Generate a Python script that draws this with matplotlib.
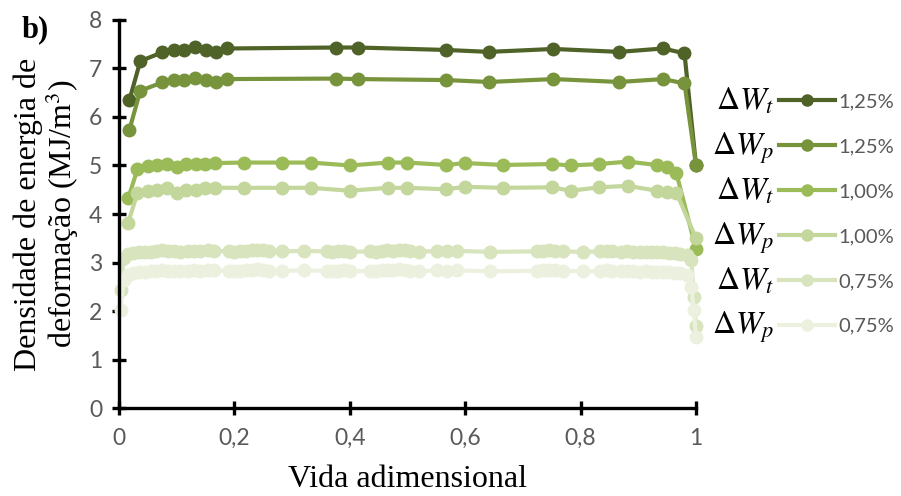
import numpy as np
import matplotlib
matplotlib.use("Agg")
import matplotlib.pyplot as plt
from matplotlib.lines import Line2D

plt.rcParams['mathtext.fontset'] = 'stix'

# 1,25 % (total e plastica)
x_125 = [0.018, 0.037, 0.075, 0.095, 0.113, 0.132, 0.151, 0.169, 0.188, 0.377, 0.414,
         0.566, 0.641, 0.753, 0.867, 0.943, 0.98, 1.0]
wt_125 = [6.34, 7.15, 7.33, 7.38, 7.38, 7.44, 7.38, 7.33, 7.41, 7.43, 7.43,
          7.38, 7.34, 7.40, 7.34, 7.41, 7.31, 5.00]
wp_125 = [5.73, 6.54, 6.71, 6.76, 6.76, 6.80, 6.76, 6.72, 6.78, 6.79, 6.78,
          6.76, 6.72, 6.78, 6.72, 6.78, 6.69, 5.00]

# 1,00 %
x_100 = [0.016, 0.032, 0.05, 0.066, 0.083, 0.1, 0.117, 0.133, 0.15, 0.167, 0.216, 0.283,
         0.333, 0.4, 0.466, 0.5, 0.567, 0.6, 0.666, 0.75, 0.783, 0.832, 0.882, 0.932,
         0.949, 0.966, 1.0]
wt_100 = [4.32, 4.92, 4.99, 5.02, 5.03, 4.96, 5.03, 5.03, 5.03, 5.05, 5.06, 5.06,
          5.06, 5.00, 5.06, 5.06, 5.01, 5.05, 5.01, 5.03, 5.00, 5.03, 5.08, 5.01,
          4.96, 4.84, 3.28]
wp_100 = [3.82, 4.43, 4.48, 4.50, 4.53, 4.44, 4.50, 4.50, 4.53, 4.54, 4.54, 4.54,
          4.54, 4.48, 4.54, 4.54, 4.51, 4.56, 4.54, 4.55, 4.48, 4.55, 4.58, 4.48,
          4.45, 4.44, 3.50]

# 0,75 %
x_075 = [0.003, 0.008, 0.015, 0.025, 0.035, 0.045, 0.055, 0.065, 0.075, 0.085, 0.095,
         0.105, 0.12, 0.13, 0.14, 0.155, 0.165, 0.19, 0.2, 0.21, 0.22, 0.23, 0.24,
         0.25, 0.26, 0.282, 0.32, 0.36, 0.37, 0.38, 0.39, 0.40, 0.435, 0.445, 0.455,
         0.464, 0.475, 0.485, 0.495, 0.505, 0.52, 0.551, 0.568, 0.585, 0.643, 0.724,
         0.735, 0.745, 0.755, 0.77, 0.805, 0.834, 0.845, 0.855, 0.87, 0.88, 0.891,
         0.903, 0.913, 0.923, 0.933, 0.943, 0.953, 0.963, 0.973, 0.984, 0.992, 0.996, 1.0]
wt_075 = [2.43, 3.10, 3.17, 3.20, 3.21, 3.22, 3.22, 3.24, 3.25, 3.23, 3.24,
          3.22, 3.23, 3.24, 3.23, 3.25, 3.24, 3.23, 3.22, 3.23, 3.24, 3.25, 3.26,
          3.25, 3.23, 3.23, 3.24, 3.23, 3.22, 3.23, 3.24, 3.22, 3.23, 3.22, 3.24,
          3.25, 3.24, 3.26, 3.25, 3.23, 3.22, 3.24, 3.23, 3.24, 3.22, 3.23,
          3.24, 3.25, 3.24, 3.23, 3.22, 3.23, 3.24, 3.23, 3.22, 3.23, 3.22,
          3.21, 3.22, 3.21, 3.22, 3.21, 3.20, 3.19, 3.18, 3.15, 3.05, 2.30, 1.70]
wp_075 = [2.02, 2.65, 2.74, 2.78, 2.80, 2.81, 2.82, 2.83, 2.84, 2.82, 2.83,
          2.82, 2.83, 2.84, 2.83, 2.85, 2.84, 2.83, 2.82, 2.83, 2.84, 2.85, 2.86,
          2.85, 2.83, 2.83, 2.84, 2.83, 2.82, 2.83, 2.84, 2.82, 2.83, 2.82, 2.84,
          2.85, 2.84, 2.86, 2.85, 2.83, 2.82, 2.84, 2.83, 2.84, 2.82, 2.83,
          2.84, 2.85, 2.84, 2.83, 2.82, 2.83, 2.84, 2.83, 2.82, 2.83, 2.82,
          2.81, 2.82, 2.81, 2.81, 2.80, 2.80, 2.79, 2.78, 2.74, 2.50, 2.02, 1.47]

series = [
    (x_125, wt_125, '#4f6228', r'$\Delta W_t$', '1,25%'),
    (x_125, wp_125, '#77933c', r'$\Delta W_p$', '1,25%'),
    (x_100, wt_100, '#9bbb59', r'$\Delta W_t$', '1,00%'),
    (x_100, wp_100, '#c3d69b', r'$\Delta W_p$', '1,00%'),
    (x_075, wt_075, '#d7e4bd', r'$\Delta W_t$', '0,75%'),
    (x_075, wp_075, '#ebf1de', r'$\Delta W_p$', '0,75%'),
]

fig = plt.figure(figsize=(9.01, 4.96), dpi=100)
ax = fig.add_axes([0.132, 0.177, 0.6405, 0.783])

handles = []
for xs, ys, col, sym, pct in series:
    ax.plot(xs, ys, color=col, lw=3, marker='o', ms=9, clip_on=False)
    handles.append(Line2D([], [], color=col, lw=3, marker='o', ms=8))

ax.set_xlim(0, 1)
ax.set_ylim(0, 8)
ax.set_xticks(np.arange(0, 1.01, 0.2))
ax.set_xticklabels(['0', '0,2', '0,4', '0,6', '0,8', '1'])
ax.set_yticks(range(0, 9))
for side in ['top', 'right']:
    ax.spines[side].set_visible(False)
for side in ['left', 'bottom']:
    ax.spines[side].set_linewidth(2.4)
ax.tick_params(direction='inout', length=10, width=2.4, labelsize=16.5,
               labelcolor='#595959')
ax.tick_params(axis='x', pad=9)
ax.tick_params(axis='y', pad=7)
for lab in ax.get_xticklabels() + ax.get_yticklabels():
    lab.set_fontfamily('Lato')

ax.set_xlabel('Vida adimensional', family='Liberation Serif', fontsize=23, labelpad=12)
ax.set_ylabel('Densidade de energia de\ndeformação (MJ/m$^3$)', family='Liberation Serif',
              fontsize=23, labelpad=6, linespacing=1.0)
fig.text(0.024, 0.97, 'b)', family='Liberation Serif', fontsize=22, weight='bold', va='top')

leg = ax.legend(handles, [s[4] for s in series], loc='upper left',
                bbox_to_anchor=(0.865, 0.812), bbox_transform=fig.transFigure,
                frameon=False, fontsize=14.5, handlelength=2.75, handletextpad=0.2,
                labelspacing=1.38, borderaxespad=0, borderpad=0)
for t in leg.get_texts():
    t.set_color('#595959')
    t.set_fontfamily('Lato')

fig.canvas.draw()
for t, s in zip(leg.get_texts(), series):
    bb = t.get_window_extent()
    yc = (bb.y0 + bb.y1) / 2
    fig.text(774 / 901, (yc - 8) / fig.bbox.height, s[3], fontsize=23,
             ha='right', va='baseline')

fig.savefig('out.png', dpi=100)
